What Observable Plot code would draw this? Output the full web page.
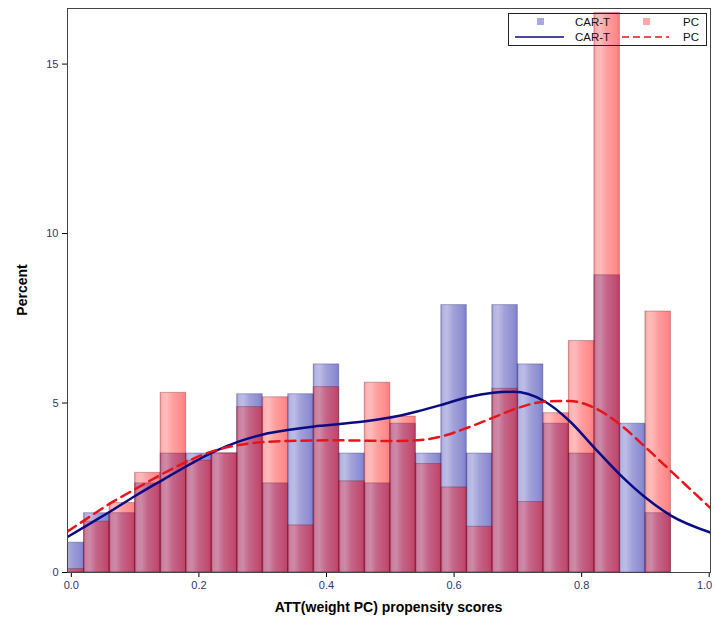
<!DOCTYPE html>
<html>
<head>
<meta charset="utf-8">
<script src="https://cdn.jsdelivr.net/npm/d3@7"></script>
<script src="https://cdn.jsdelivr.net/npm/@observablehq/plot@0.6"></script>
<style>
  body { margin: 0; background: #fff; }
  #chart svg g[aria-label="x-axis tick label"] text,
  #chart svg g[aria-label="y-axis tick label"] text { fill: #33336b; }
</style>
</head>
<body>
<div id="chart"></div>
<script>
// Histogram bin centres (bin width 0.04)
const binCenters = [0.00, 0.04, 0.08, 0.12, 0.16, 0.20, 0.24, 0.28, 0.32, 0.36, 0.40, 0.44,
                    0.48, 0.52, 0.56, 0.60, 0.64, 0.68, 0.72, 0.76, 0.80, 0.84, 0.88, 0.92];
const binWidth = 0.04;
// Percent per bin
const carTPct = [0.88, 1.75, 1.75, 2.63, 3.51, 3.51, 3.51, 5.26, 2.63, 5.26, 6.14, 3.51,
                 2.63, 4.39, 3.51, 7.89, 3.51, 7.89, 6.14, 4.39, 3.51, 8.77, 4.39, 1.75];
const pcPct   = [0.10, 1.50, 2.05, 2.94, 5.30, 3.30, 3.52, 4.88, 5.17, 1.39, 5.47, 2.69,
                 5.60, 4.60, 3.20, 2.51, 1.35, 5.42, 2.08, 4.70, 6.83, 16.51, 0.00, 7.70];
// Kernel density curves
const carTDensX = [-0.006, 0.022, 0.061, 0.102, 0.142, 0.182, 0.222, 0.262, 0.302, 0.342, 0.381, 0.421,
                   0.461, 0.500, 0.542, 0.581, 0.621, 0.661, 0.693, 0.741, 0.781, 0.820, 0.860, 0.901, 0.940, 1.002];
const carTDensY = [1.05, 1.36, 1.80, 2.28, 2.72, 3.15, 3.55, 3.86, 4.08, 4.21, 4.31, 4.38,
                   4.46, 4.57, 4.75, 4.95, 5.17, 5.30, 5.33, 5.06, 4.47, 3.68, 2.89, 2.20, 1.68, 1.18];
const pcDensX = [-0.006, 0.022, 0.061, 0.102, 0.142, 0.182, 0.222, 0.262, 0.302, 0.342, 0.421, 0.500,
                 0.542, 0.581, 0.621, 0.661, 0.701, 0.741, 0.781, 0.820, 0.860, 0.901, 0.940, 1.002];
const pcDensY = [1.21, 1.56, 2.04, 2.48, 2.90, 3.28, 3.58, 3.76, 3.85, 3.88, 3.90, 3.88,
                 3.90, 4.02, 4.27, 4.57, 4.86, 5.04, 5.06, 4.86, 4.37, 3.68, 2.99, 1.90];
const xTicks = [0, 0.2, 0.4, 0.6, 0.8, 1.0];
const yTicks = [0, 5, 10, 15];
const seriesNames = ["CAR-T", "PC"];
const xTitle = "ATT(weight PC) propensity scores";
const yTitle = "Percent";

const bars = binCenters.map((c, i) => ({x1: c - binWidth / 2, x2: c + binWidth / 2, car: carTPct[i], pc: pcPct[i]}));
const carDens = carTDensX.map((x, i) => ({x, y: carTDensY[i]}));
const pcDens = pcDensX.map((x, i) => ({x, y: pcDensY[i]}));

const W = 715, H = 621, mL = 67, mR = 5, mT = 8, mB = 49;
const FONT = "'Liberation Sans', Arial, sans-serif";

const svg = Plot.plot({
  width: W,
  height: H,
  marginLeft: mL,
  marginRight: mR,
  marginTop: mT,
  marginBottom: mB,
  style: {fontFamily: FONT, fontSize: "11px", background: "white", overflow: "visible"},
  x: {domain: [-0.006, 1.002], ticks: xTicks, tickFormat: d3.format(".1f"), tickSize: 5, label: null},
  y: {domain: [0, 16.64], ticks: yTicks, tickSize: 5, label: null},
  marks: [
    Plot.rectY(bars, {x1: "x1", x2: "x2", y: "car", fill: "url(#gCar)", stroke: "#1a1a50", strokeOpacity: 0.3, clip: true}),
    Plot.rectY(bars, {x1: "x1", x2: "x2", y: "pc", fill: "url(#gPc)", stroke: "#501020", strokeOpacity: 0.3, clip: true}),
    Plot.line(carDens, {x: "x", y: "y", stroke: "#0b0b84", strokeWidth: 2.5, curve: "monotone-x", clip: true}),
    Plot.line(pcDens, {x: "x", y: "y", stroke: "#e8141c", strokeWidth: 2.5, strokeDasharray: "10,6", curve: "monotone-x", clip: true}),
    Plot.frame({stroke: "#444"})
  ]
});

// gloss gradients for the bars
const defs = d3.select(svg).insert("defs", ":first-child");
function grad(id, color, stops) {
  const g = defs.append("linearGradient").attr("id", id).attr("x1", "0").attr("x2", "1").attr("y1", "0").attr("y2", "0");
  stops.forEach(([o, a]) => g.append("stop").attr("offset", o).attr("stop-color", color).attr("stop-opacity", a));
}
const glossStops = [[0, 0.46], [0.08, 0.30], [0.25, 0.27], [0.5, 0.38], [0.85, 0.46], [1, 0.52]];
grad("gCar", "rgb(8,8,158)", glossStops);
grad("gPc", "rgb(255,3,3)", glossStops);

// axis titles
const sel = d3.select(svg);
sel.append("text").attr("x", mL + (W - mL - mR) / 2).attr("y", 612).attr("text-anchor", "middle")
  .attr("font-family", FONT).attr("font-size", 14).attr("font-weight", "bold").attr("fill", "#000").text(xTitle);
sel.append("text").attr("transform", `translate(27,${mT + (H - mT - mB) / 2}) rotate(-90)`).attr("text-anchor", "middle")
  .attr("font-family", FONT).attr("font-size", 14).attr("font-weight", "bold").attr("fill", "#000").text(yTitle);

// legend inside the plot area (top-right)
const lg = sel.append("g").attr("font-family", FONT).attr("font-size", 11.5).attr("text-anchor", "start").attr("fill", "#111");
lg.append("rect").attr("x", 508.5).attr("y", 13.5).attr("width", 198).attr("height", 32).attr("fill", "none").attr("stroke", "#222");
lg.append("rect").attr("x", 537).attr("y", 18).attr("width", 7).attr("height", 7).attr("fill", "rgb(8,8,158)").attr("fill-opacity", 0.35);
lg.append("text").attr("x", 575).attr("y", 25.5).attr("text-anchor", "start").text(seriesNames[0]);
lg.append("rect").attr("x", 643).attr("y", 18).attr("width", 7).attr("height", 7).attr("fill", "rgb(255,3,3)").attr("fill-opacity", 0.35);
lg.append("text").attr("x", 699).attr("y", 25.5).attr("text-anchor", "end").text(seriesNames[1]);
lg.append("line").attr("x1", 515).attr("x2", 564).attr("y1", 37).attr("y2", 37).attr("stroke", "#0b0b84").attr("stroke-width", 1.3);
lg.append("text").attr("x", 575).attr("y", 41).attr("text-anchor", "start").text(seriesNames[0]);
lg.append("line").attr("x1", 622).attr("x2", 669).attr("y1", 37).attr("y2", 37).attr("stroke", "#e8141c").attr("stroke-width", 1.3).attr("stroke-dasharray", "7,4");
lg.append("text").attr("x", 699).attr("y", 41).attr("text-anchor", "end").text(seriesNames[1]);

// keep the "1.0" tick label inside the picture
sel.selectAll('g[aria-label="x-axis tick label"] text').filter(function () { return this.textContent === "1.0"; })
  .attr("text-anchor", "end").attr("dx", 3);

document.getElementById("chart").appendChild(svg);
</script>
</body>
</html>
